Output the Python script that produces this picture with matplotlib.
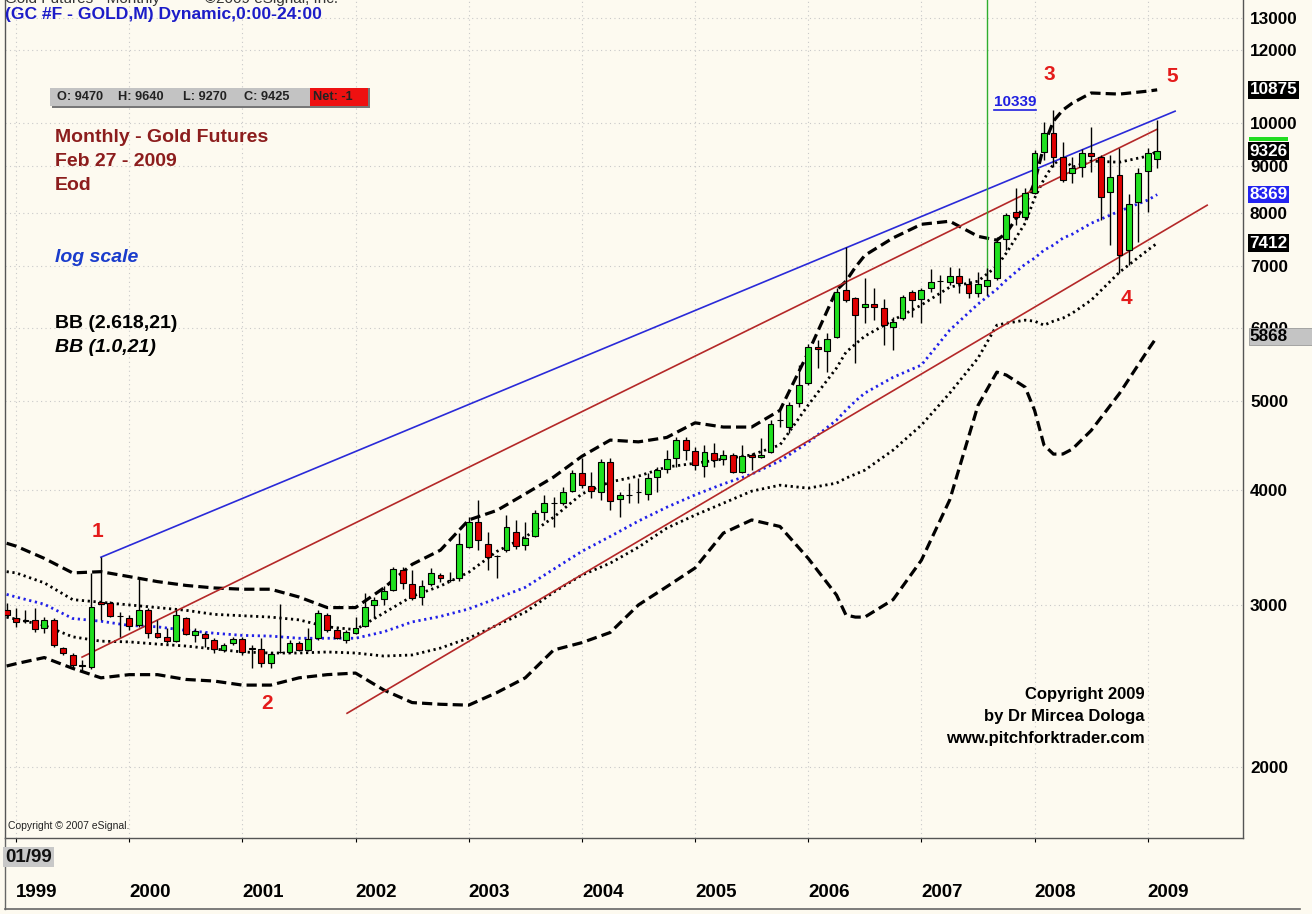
"""Monthly gold futures candlestick chart with Bollinger bands and trend lines."""
import matplotlib
matplotlib.use("Agg")
import matplotlib.pyplot as plt
from matplotlib.lines import Line2D
from matplotlib.patches import Rectangle
from matplotlib.transforms import IdentityTransform, blended_transform_factory
import numpy as np

plt.rcParams['font.family'] = ['Liberation Sans', 'DejaVu Sans']

W, H = 1312, 914

# month index, 0 = Jan 1999 (first bar is Dec 1998)
months = np.arange(-1, 122)
opens = [2961, 2902, 2890, 2888, 2831, 2888, 2693, 2647, 2578, 2568, 3021, 3013, 2920,
         2902, 2852, 2961, 2796, 2768, 2740, 2902, 2782, 2789, 2747, 2680, 2727,
         2754, 2690, 2687, 2594, 2665, 2667, 2727, 2680, 2761, 2924, 2817, 2747,
         2796, 2845, 2998, 3044, 3113, 3273, 3160, 3059, 3160, 3232, 3190, 3208,
         3466, 3690, 3492, 3387, 3440, 3599, 3483, 3563, 3783, 3866, 3869, 3987,
         4170, 4037, 3977, 4288, 3908, 3945, 3974, 3958, 4129, 4213, 4331, 4529,
         4407, 4245, 4385, 4320, 4363, 4181, 4363, 4342, 4396, 4758, 4679, 4969,
         5223, 5715, 5658, 5860, 6590, 6459, 6316, 6364, 6300, 6008, 6145, 6557,
         6443, 6623, 6735, 6723, 6825, 6690, 6541, 6656, 6791, 7487, 8010, 7910,
         8399, 9306, 9757, 9191, 8830, 8963, 9283, 9191, 8420, 8787, 7284, 8213,
         8875, 9150]
highs = [3013, 2976, 2961, 2976, 2909, 2902, 2700, 2660, 2613, 3249, 3380, 3028, 2946,
         2924, 3216, 2976, 2888, 2831, 2961, 2909, 2831, 2803, 2761, 2727, 2768,
         2768, 2713, 2761, 2667, 3006, 2747, 2740, 2831, 2961, 2939, 2831, 2817,
         2909, 3090, 3059, 3144, 3298, 3298, 3273, 3192, 3289, 3249, 3257, 3590,
         3736, 3898, 3599, 3397, 3755, 3708, 3690, 3802, 3948, 3928, 4027, 4202,
         4331, 4181, 4320, 4331, 3977, 4068, 4119, 4170, 4234, 4418, 4563, 4563,
         4451, 4474, 4497, 4418, 4385, 4474, 4385, 4552, 4762, 4882, 4981, 5463,
         5759, 5816, 5918, 6623, 7339, 6475, 6791, 6623, 6443, 6160, 6508, 6590,
         6623, 6945, 6842, 6980, 6962, 6791, 6893, 6962, 7524, 7990, 8505, 8505,
         9353, 10031, 10339, 9541, 9191, 9377, 9905, 9237, 9237, 9400, 8378, 8941,
         9400, 10080]
lows = [2902, 2838, 2867, 2803, 2796, 2700, 2647, 2562, 2549, 2555, 2888, 2909, 2768,
        2817, 2838, 2761, 2761, 2727, 2734, 2782, 2734, 2700, 2660, 2667, 2713,
        2647, 2562, 2568, 2562, 2660, 2660, 2673, 2673, 2747, 2803, 2754, 2727,
        2790, 2838, 2902, 2998, 3105, 3121, 3036, 2998, 3144, 3176, 3176, 3184,
        3457, 3440, 3273, 3208, 3423, 3449, 3440, 3554, 3708, 3644, 3850, 3977,
        4017, 3918, 3898, 3802, 3736, 3869, 3869, 3898, 3977, 4170, 4234, 4309,
        4202, 4129, 4234, 4255, 4170, 4170, 4202, 4331, 4385, 4679, 4609, 4919,
        5197, 5423, 5369, 5845, 6396, 5490, 6068, 6114, 5744, 5672, 6114, 6160,
        6068, 6557, 6380, 6673, 6541, 6459, 6475, 6508, 6757, 7284, 7754, 7851,
        8380, 9122, 8963, 8634, 8613, 8743, 8853, 7851, 7376, 6876, 7015, 7431,
        8010, 8940]
closes = [2924, 2874, 2885, 2824, 2888, 2713, 2660, 2581, 2581, 2983, 3006, 2917, 2915,
          2845, 2961, 2796, 2768, 2740, 2924, 2789, 2810, 2761, 2687, 2713, 2754,
          2667, 2695, 2594, 2653, 2669, 2727, 2680, 2754, 2939, 2817, 2761, 2803,
          2831, 2983, 3036, 3105, 3281, 3168, 3051, 3144, 3249, 3208, 3195, 3492,
          3690, 3527, 3380, 3391, 3644, 3475, 3545, 3774, 3869, 3872, 3977, 4170,
          4047, 3987, 4288, 3888, 3948, 3950, 3980, 4119, 4202, 4320, 4529, 4418,
          4255, 4396, 4309, 4363, 4181, 4353, 4342, 4363, 4714, 4766, 4944, 5197,
          5715, 5686, 5831, 6557, 6427, 6191, 6364, 6316, 6038, 6084, 6475, 6427,
          6590, 6723, 6745, 6825, 6707, 6541, 6690, 6757, 7431, 7950, 7910, 8399,
          9283, 9757, 9191, 8677, 8941, 9283, 9214, 8316, 8743, 7194, 8172, 8830,
          9283, 9326]

# Bollinger band readings (month index, price)
band_months = [-1, 0, 3, 6, 9, 12, 15, 18, 21, 24, 27, 30, 33, 36, 39, 42, 45, 48, 51, 54,
               57, 60, 63, 66, 69, 72, 75, 78, 81, 84, 87, 88, 89, 90, 93, 96, 99, 102,
               104, 105, 107, 108, 109, 110, 111, 112, 114, 117, 120, 121]
bb_upper_outer = [3500, 3475, 3370, 3250, 3260, 3220, 3180, 3150, 3130, 3120, 3120, 3060,
                  2980, 2980, 3130, 3320, 3440, 3710, 3800, 3960, 4130, 4350, 4530, 4510,
                  4560, 4730, 4680, 4680, 4880, 5640, 6590, 6740, 6980, 7190, 7510, 7770,
                  7830, 7540, 7468, 7600, 8150, 8630, 9470, 10056, 10340, 10520, 10790,
                  10760, 10840, 10875]
bb_lower_outer = [2575, 2590, 2630, 2560, 2500, 2520, 2520, 2490, 2480, 2455, 2455, 2500,
                  2520, 2530, 2425, 2350, 2340, 2335, 2410, 2500, 2680, 2730, 2800, 3000,
                  3140, 3290, 3590, 3710, 3650, 3370, 3075, 2925, 2910, 2910, 3040, 3355,
                  3900, 4940, 5369, 5330, 5171, 4880, 4474, 4374, 4375, 4429, 4640, 5090,
                  5670, 5868]
bb_upper_inner = [3260, 3250, 3170, 3040, 3020, 3000, 2980, 2960, 2930, 2920, 2910, 2890,
                  2840, 2820, 2940, 3065, 3145, 3255, 3430, 3555, 3735, 3960, 4080, 4140,
                  4235, 4275, 4320, 4365, 4475, 4945, 5425, 5643, 5759, 5875, 6114, 6350,
                  6640, 6740, 6997, 7230, 7792, 8295, 8699, 9031, 9170, 8963, 9100, 9075,
                  9215, 9326]
bb_lower_inner = [2910, 2895, 2850, 2770, 2740, 2735, 2720, 2707, 2687, 2667, 2660, 2660,
                  2667, 2660, 2640, 2647, 2693, 2761, 2852, 2946, 3097, 3232, 3330, 3466,
                  3635, 3755, 3869, 3987, 4047, 4017, 4068, 4119, 4160, 4202, 4418, 4703,
                  5094, 5560, 6038, 6068, 6114, 6099, 6038, 6099, 6145, 6222, 6427, 6893,
                  7284, 7412]
bb_middle = [3080, 3060, 3005, 2900, 2880, 2850, 2840, 2815, 2795, 2780, 2775, 2760, 2760,
             2760, 2805, 2875, 2915, 2970, 3050, 3135, 3280, 3430, 3560, 3700, 3830, 3950,
             4060, 4160, 4300, 4505, 4762, 4882, 4994, 5095, 5300, 5465, 5963, 6365, 6606,
             6757, 7033, 7140, 7284, 7376, 7506, 7581, 7790, 8030, 8255, 8369]

# trend lines (month, price) end points
blue_line_m = [9, 122.9]
blue_line_p = [3380, 10310]
red_upper_m = [7, 121]
red_upper_p = [2633, 9855]
red_lower_m = [35.1, 126.3]
red_lower_p = [2288, 8150]

year_months = [0, 12, 24, 36, 48, 60, 72, 84, 96, 108, 120]
year_labels = ['1999', '2000', '2001', '2002', '2003', '2004', '2005', '2006', '2007',
               '2008', '2009']
price_ticks = [2000, 3000, 4000, 5000, 6000, 7000, 8000, 9000, 10000, 12000, 13000]

wave_labels = ['1', '2', '3', '4', '5']
wave_m = [8.6, 26.6, 109.6, 117.7, 122.6]
wave_p = [3600, 2347, 11300, 6460, 11250]

# value boxes on the price scale: (value, face, text colour)
value_boxes = [(10875, 'black', 'white'), (9326, 'black', 'white'),
               (8369, '#2323f0', 'white'), (7412, 'black', 'white')]

BG = '#fdfaf0'


def fx(px):
    return px / W


def fy(py):
    return 1 - py / H


fig = plt.figure(figsize=(W / 100, H / 100), dpi=100, facecolor=BG)
ax = fig.add_axes([fx(5), fy(838), fx(1243) - fx(5), fy(0) - fy(838)], facecolor=BG)
ax.set_yscale('log')
ax.set_ylim(1675, 13614)
ax.set_xlim(-1.17, 130.1)

# grid and frame
ax.set_yticks(price_ticks)
ax.set_yticklabels([str(v) for v in price_ticks])
ax.yaxis.set_minor_locator(matplotlib.ticker.NullLocator())
ax.yaxis.tick_right()
ax.tick_params(axis='y', length=0, pad=5, labelsize=12.3)
ax.set_xticks(year_months)
ax.set_xticklabels(year_labels, ha='left')
ax.tick_params(axis='x', length=3, pad=30, labelsize=13.5)
for lab in ax.get_xticklabels() + ax.get_yticklabels():
    lab.set_fontweight('bold')
ax.grid(True, color='#c9c9c9', linestyle=(0, (1, 3)), lw=0.8)
ax.set_axisbelow(True)
ax.spines['top'].set_visible(False)
for s in ('left', 'right', 'bottom'):
    ax.spines[s].set_color('#555555')
    ax.spines[s].set_linewidth(1.0)

# Bollinger bands
ax.plot(band_months, bb_upper_outer, color='black', lw=2.3, ls=(0, (3.2, 1.6)), zorder=2)
ax.plot(band_months, bb_lower_outer, color='black', lw=2.3, ls=(0, (3.2, 1.6)), zorder=2)
ax.plot(band_months, bb_upper_inner, color='black', lw=2.0, ls=(0, (0.8, 1.3)), zorder=2)
ax.plot(band_months, bb_lower_inner, color='black', lw=2.0, ls=(0, (0.8, 1.3)), zorder=2)
ax.plot(band_months, bb_middle, color='#2020e8', lw=2.0, ls=(0, (0.8, 1.3)), zorder=2)

# trend lines
ax.plot(blue_line_m, blue_line_p, color='#2a2ad8', lw=1.2, zorder=3)
ax.plot(red_upper_m, red_upper_p, color='#b42828', lw=1.2, zorder=3)
ax.plot(red_lower_m, red_lower_p, color='#b42828', lw=1.2, zorder=3)
ax.plot([103, 103], [6700, 20000], color='#2fae2f', lw=1.0, zorder=3)

# candles
o = np.array(opens, float)
h = np.array(highs, float)
l = np.array(lows, float)
c = np.array(closes, float)
colors = np.where(c >= o, '#1fe01f', '#e00000')
ax.vlines(months, l, h, color='black', lw=1.0, zorder=4)
ax.bar(months, np.abs(c - o), bottom=np.minimum(o, c), width=0.62, color=colors,
       edgecolor='black', lw=0.8, zorder=5)

# wave counts
for t, m, p in zip(wave_labels, wave_m, wave_p):
    ax.text(m, p, t, color='#e41b1b', fontsize=15, fontweight='bold',
            ha='center', va='center', zorder=6)
t10339 = ax.text(105.9, 10550, '10339', color='#1f1fe0', fontsize=11,
                 fontweight='bold', ha='center', va='center', zorder=6)

# value boxes at the right scale
trans = blended_transform_factory(ax.transAxes, ax.transData)
for val, fc, tc in value_boxes:
    ax.text(1.0052, val, str(val), transform=trans, color=tc, fontsize=12.3,
            fontweight='bold', va='center', ha='left', clip_on=False, zorder=10,
            bbox=dict(boxstyle='square,pad=0.08', fc=fc, ec='none'))
ax.add_patch(Rectangle((1.0046, 9560), 0.0318, 100, transform=trans, fc='#22dd22',
                       ec='none', clip_on=False, zorder=12))
ax.add_patch(Rectangle((1.0045, 5740), 0.06, 255, transform=trans, fc='#c4c4c4',
                       ec='#9a9a9a', lw=0.6, clip_on=False, zorder=10))
ax.text(1.0052, 5868, '5868', transform=trans, color='black', fontsize=12.3,
        fontweight='bold', va='center', ha='left', clip_on=False, zorder=11)

# header texts
fig.text(fx(5), fy(-1), 'Gold Futures - Monthly  - - -   \u00a92009 eSignal, Inc.',
         fontsize=11, color='#333333', va='center', ha='left')
fig.text(fx(5), fy(15), '(GC #F - GOLD,M) Dynamic,0:00-24:00', fontsize=12.6,
         fontweight='bold', color='#1c1cc8', va='center', ha='left')

# OHLC info box
fig.add_artist(Rectangle((fx(52), fy(108)), fx(318), fy(88) - fy(108), fc='#777777',
                         ec='none', transform=fig.transFigure))
fig.add_artist(Rectangle((fx(50), fy(106)), fx(260), fy(88) - fy(106), fc='#c3c3c3',
                         ec='none', transform=fig.transFigure))
fig.add_artist(Rectangle((fx(310), fy(106)), fx(58), fy(88) - fy(106), fc='#ee1111',
                         ec='none', transform=fig.transFigure))
for px, s in [(57, 'O: 9470'), (118, 'H: 9640'), (183, 'L: 9270'), (244, 'C: 9425'),
              (313, 'Net: -1')]:
    fig.text(fx(px), fy(97), s, fontsize=9.2, fontweight='bold', color='#222222',
             va='center', ha='left')

# annotations on the chart
dark_red = '#8c1d1d'
for py, s in [(138, 'Monthly - Gold Futures'), (162, 'Feb 27 - 2009'), (186, 'Eod')]:
    fig.text(fx(55), fy(py), s, fontsize=14, fontweight='bold', color=dark_red,
             va='center', ha='left')
fig.text(fx(55), fy(257), 'log scale', fontsize=14, fontweight='bold', style='italic',
         color='#1a3ccc', va='center', ha='left')
fig.text(fx(55), fy(323), 'BB (2.618,21)', fontsize=14, fontweight='bold',
         color='black', va='center', ha='left')
fig.text(fx(55), fy(347), 'BB (1.0,21)', fontsize=14, fontweight='bold', style='italic',
         color='black', va='center', ha='left')
for py, s in [(695, 'Copyright 2009'), (717, 'by Dr Mircea Dologa'),
              (738, 'www.pitchforktrader.com')]:
    fig.text(fx(1145), fy(py), s, fontsize=12, fontweight='bold', color='black',
             va='center', ha='right')
fig.text(fx(8), fy(826), 'Copyright \u00a9 2007 eSignal.', fontsize=7.5,
         color='#222222', va='center', ha='left')
fig.text(fx(5), fy(857), '01/99', fontsize=13.5, fontweight='bold', color='#111111',
         va='center', ha='left', bbox=dict(boxstyle='square,pad=0.1', fc='#c8c8c8',
                                            ec='none'))

# frame below the plot
fig.add_artist(Line2D([fx(5), fx(1300)], [fy(909), fy(909)], color='#666666', lw=1.2,
                      transform=fig.transFigure))
fig.add_artist(Line2D([fx(5), fx(5)], [fy(838), fy(909)], color='#666666', lw=1.0,
                      transform=fig.transFigure))

# underline for the 10339 label
fig.canvas.draw()
bb = t10339.get_window_extent()
fig.add_artist(Line2D([bb.x0, bb.x1], [bb.y0 - 1, bb.y0 - 1], color='#1f1fe0', lw=1.2,
                      transform=IdentityTransform()))

fig.savefig('out.png', dpi=100, facecolor=BG)
